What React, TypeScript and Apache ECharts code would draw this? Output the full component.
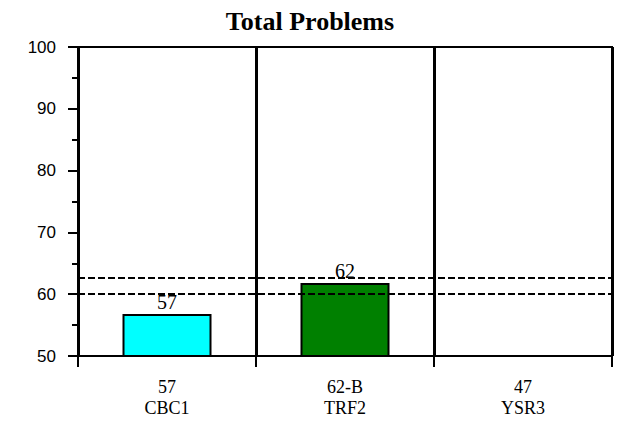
import React, { useEffect, useRef } from "react";
import * as echarts from "echarts";

const titleText = "Total Problems";
const codes = ["57", "62-B", "47"];
const names = ["CBC1", "TRF2", "YSR3"];
const values: (number | null)[] = [56.8, 61.8, null];
const barColors = ["#00FFFF", "#008000", "#808080"];
const refLines = [62.7, 60.15];
const yMin = 50;
const yMax = 100;
const yInterval = 10;

export default function App() {
  const ref = useRef<HTMLDivElement>(null);
  useEffect(() => {
    if (!ref.current) return;
    const chart = echarts.init(ref.current, null, { renderer: "svg" });
    const serif = "'Liberation Serif', 'Times New Roman', serif";
    const sans = "'Liberation Sans', Arial, sans-serif";
    chart.setOption({
      animation: false,
      backgroundColor: "#ffffff",
      title: {
        text: titleText,
        left: "center",
        top: 3,
        textStyle: { fontFamily: serif, fontWeight: "bold", fontSize: 26, color: "#000" },
      },
      grid: {
        left: 78,
        right: 8,
        top: 47,
        bottom: 66,
        show: true,
        borderColor: "#000",
        borderWidth: 2,
        containLabel: false,
      },
      xAxis: {
        type: "category",
        data: codes.map((c, i) => c + "\n" + names[i]),
        boundaryGap: true,
        axisLine: { show: true, lineStyle: { color: "#000", width: 2 } },
        axisTick: { show: true, length: 11, interval: 0, lineStyle: { color: "#000", width: 2 } },
        axisLabel: {
          interval: 0,
          margin: 20,
          fontFamily: serif,
          fontSize: 18,
          lineHeight: 21,
          color: "#000",
        },
        splitLine: { show: true, interval: 0, lineStyle: { color: "#000", width: 3 } },
      },
      yAxis: {
        type: "value",
        min: yMin,
        max: yMax,
        interval: yInterval,
        axisLine: { show: true, lineStyle: { color: "#000", width: 2 } },
        axisTick: { show: true, length: 10, lineStyle: { color: "#000", width: 2 } },
        minorTick: { show: true, splitNumber: 2, length: 6, lineStyle: { color: "#000", width: 2 } },
        axisLabel: { margin: 22, fontFamily: sans, fontSize: 17, color: "#000" },
        splitLine: { show: false },
      },
      series: [
        {
          type: "bar",
          barWidth: "50%",
          data: values.map((v, i) => ({
            value: v,
            itemStyle: { color: barColors[i], borderColor: "#000", borderWidth: 2 },
          })),
          label: {
            show: true,
            position: "top",
            distance: 2,
            fontFamily: serif,
            fontSize: 20,
            color: "#000",
            formatter: (p: any) => (p.value == null ? "" : String(Math.round(p.value))),
          },
          markLine: {
            symbol: "none",
            silent: true,
            label: { show: false },
            lineStyle: { color: "#000", width: 2, type: [7, 3] },
            data: refLines.map((y) => ({ yAxis: y })),
          },
        },
      ],
    });
    return () => chart.dispose();
  }, []);
  return (
    <div
      ref={ref}
      style={{ position: "absolute", left: 0, top: 0, width: 620, height: 422 }}
    />
  );
}
